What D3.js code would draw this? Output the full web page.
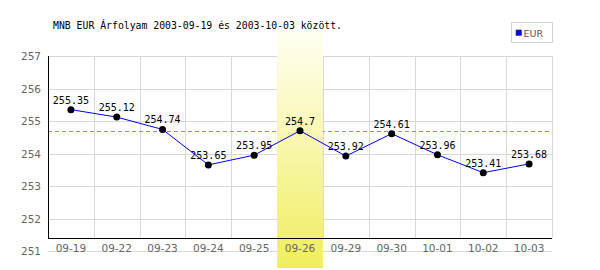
<!DOCTYPE html>
<html><head><meta charset="utf-8">
<script src="https://cdn.jsdelivr.net/npm/d3@7/dist/d3.min.js"></script>
<style>body{margin:0;background:#fff}svg{display:block}</style>
</head><body>
<svg id="c" width="600" height="270"></svg>
<script>
const categories = ["09-19","09-22","09-23","09-24","09-25","09-26","09-29","09-30","10-01","10-02","10-03"];
const values = [255.35,255.12,254.74,253.65,253.95,254.7,253.92,254.61,253.96,253.41,253.68];
const yTicks = [251,252,253,254,255,256,257];
const highlight = "09-26";
const refValue = 254.7;
const title = "MNB EUR Árfolyam 2003-09-19 és 2003-10-03 között.";
const seriesName = "EUR";

const svg = d3.select("#c");
const L = 48, R = 552, T = 56;
const x = d3.scaleBand().domain(categories).range([L, R]);
const y = d3.scaleLinear().domain([251, 257]).range([251, T]);
const axisY = 238;

const defs = svg.append("defs");
const g = defs.append("linearGradient").attr("id","hl").attr("x1",0).attr("x2",0).attr("y1",0).attr("y2",1);
g.append("stop").attr("offset","0%").attr("stop-color","#fffff2");
g.append("stop").attr("offset","100%").attr("stop-color","#f0ee5e");

// grid
svg.append("g").selectAll("line").data(yTicks).join("line")
  .attr("x1", L).attr("x2", R).attr("y1", d => Math.round(y(d))+0.5).attr("y2", d => Math.round(y(d))+0.5)
  .attr("stroke", "#d8d8d8");
const vx = categories.map(c => x(c) + x.bandwidth()).slice();
svg.append("g").selectAll("line").data(vx).join("line")
  .attr("x1", d => Math.round(d)+0.5).attr("x2", d => Math.round(d)+0.5)
  .attr("y1", T).attr("y2", axisY).attr("stroke", "#d8d8d8");

// reference dashed line
svg.append("line").attr("x1", L).attr("x2", R)
  .attr("y1", Math.round(y(refValue))+0.5).attr("y2", Math.round(y(refValue))+0.5)
  .attr("stroke", "#8888ff").attr("stroke-dasharray", "4,3");

// highlight band
svg.append("rect").attr("x", x(highlight)).attr("width", x.bandwidth())
  .attr("y", 32).attr("height", 236).attr("fill", "url(#hl)");

// axes
svg.append("line").attr("x1", L+0.5).attr("x2", L+0.5).attr("y1", T).attr("y2", axisY+1).attr("stroke", "#000");
svg.append("line").attr("x1", L).attr("x2", R).attr("y1", axisY+0.5).attr("y2", axisY+0.5).attr("stroke", "#000");

// y tick labels
svg.append("g").selectAll("text").data(yTicks).join("text")
  .attr("x", 41).attr("y", d => y(d) + 4).attr("text-anchor", "end")
  .attr("font-family", "DejaVu Sans, sans-serif").attr("font-size", 10.5).attr("fill", "#666")
  .text(d => d);

// x tick labels
svg.append("g").selectAll("text").data(categories).join("text")
  .attr("x", d => x(d) + x.bandwidth()/2).attr("y", 252).attr("text-anchor", "middle")
  .attr("font-family", "DejaVu Sans, sans-serif").attr("font-size", 10.5).attr("fill", "#666")
  .text(d => d);

// line
const pts = categories.map((c,i) => [x(c) + x.bandwidth()/2, y(values[i])]);
svg.append("path").attr("d", d3.line()(pts)).attr("fill","none").attr("stroke","#0000ff").attr("stroke-width",1);

svg.append("g").selectAll("circle").data(pts).join("circle")
  .attr("cx", d => d[0]).attr("cy", d => d[1]).attr("r", 3.5).attr("fill", "#000");

svg.append("g").selectAll("text").data(pts).join("text")
  .attr("x", d => d[0]).attr("y", d => d[1] - 6).attr("text-anchor","middle")
  .attr("font-family","DejaVu Sans Mono, monospace").attr("font-size", 10).attr("fill","#000")
  .text((d,i) => values[i]);

// title
svg.append("text").attr("x", 53).attr("y", 29)
  .attr("font-family","DejaVu Sans Mono, monospace").attr("font-size", 9.8).attr("fill","#000")
  .text(title);

// legend
svg.append("rect").attr("x", 511.5).attr("y", 22.5).attr("width", 41).attr("height", 20)
  .attr("fill","#fff").attr("stroke","#d4d4d4");
svg.append("rect").attr("x", 516).attr("y", 30).attr("width", 5.5).attr("height", 5.5)
  .attr("fill","#0000ff").attr("stroke","#333").attr("stroke-width",0.6);
svg.append("text").attr("x", 523.5).attr("y", 36.5)
  .attr("font-family","DejaVu Sans, sans-serif").attr("font-size", 9.5).attr("fill","#555")
  .text(seriesName);
</script>
</body></html>
